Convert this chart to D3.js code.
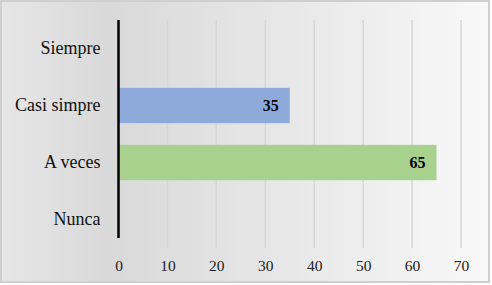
<!DOCTYPE html>
<html>
<head>
<meta charset="utf-8">
<script src="https://cdn.jsdelivr.net/npm/d3@7"></script>
<style>
  body { margin: 0; padding: 0; background: #fff; }
</style>
</head>
<body>
<div id="bar-chart"></div>
<script>
// Data
const categories = ["Siempre", "Casi simpre", "A veces", "Nunca"];
const values = [0, 35, 65, 0];
const barColors = ["#8eaadb", "#8eaadb", "#a9d18e", "#a9d18e"];
const xTicks = [0, 10, 20, 30, 40, 50, 60, 70];

const W = 492, H = 285;
const margin = {top: 20, right: 31, bottom: 37, left: 118.5},
      width = W - margin.left - margin.right,
      height = H - margin.top - margin.bottom;

const root = d3.select("#bar-chart")
    .append("svg")
    .attr("width", W)
    .attr("height", H);

// Background gradient
const grad = root.append("defs").append("linearGradient")
    .attr("id", "bg")
    .attr("x1", "0%").attr("x2", "100%")
    .attr("y1", "0%").attr("y2", "0%");
grad.append("stop").attr("offset", "0%").attr("stop-color", "#e6e6e6");
grad.append("stop").attr("offset", "22%").attr("stop-color", "#d9d9d9");
grad.append("stop").attr("offset", "100%").attr("stop-color", "#f8f8f8");

root.append("rect")
    .attr("x", 1).attr("y", 1)
    .attr("width", W - 4).attr("height", H - 4)
    .attr("fill", "url(#bg)")
    .attr("stroke", "#cfcfcf")
    .attr("stroke-width", 2);

const svg = root.append("g")
    .attr("transform", `translate(${margin.left},${margin.top})`);

// Scales
const x = d3.scaleLinear()
    .domain([0, 70])
    .range([0, width]);

const y = d3.scaleBand()
    .domain(categories)
    .range([0, height])
    .paddingInner(0.38)
    .paddingOuter(0.19);

// Vertical grid lines
svg.selectAll(".xGrid")
    .data(xTicks.slice(1))
    .join("line")
    .attr("x1", d => x(d))
    .attr("x2", d => x(d))
    .attr("y1", 0)
    .attr("y2", height)
    .attr("stroke", "#d6d6d6")
    .attr("stroke-width", 1.5);

// Bars
svg.selectAll(".bar")
    .data(values)
    .join("rect")
    .attr("x", x(0))
    .attr("y", (d, i) => y(categories[i]))
    .attr("width", d => x(d) - x(0))
    .attr("height", y.bandwidth())
    .attr("fill", (d, i) => barColors[i]);

// Value labels
svg.selectAll(".val")
    .data(values.map((v, i) => ({v, c: categories[i]})).filter(d => d.v > 0))
    .join("text")
    .attr("x", d => x(d.v) - 11)
    .attr("y", d => y(d.c) + y.bandwidth() / 2)
    .attr("dy", "0.35em")
    .style("text-anchor", "end")
    .style("font-family", "'Liberation Serif', 'Times New Roman', serif")
    .style("font-weight", "bold")
    .style("font-size", "16px")
    .style("fill", "#000")
    .text(d => d.v);

// X axis
const xAxis = svg.append("g")
    .attr("transform", `translate(0,${height})`)
    .call(d3.axisBottom(x).tickValues(xTicks).tickSize(0).tickPadding(12));
xAxis.select(".domain").remove();
xAxis.selectAll("text")
    .style("font-family", "'Liberation Serif', 'Times New Roman', serif")
    .style("font-size", "15.5px")
    .style("fill", "#222");

// Y axis
const yAxis = svg.append("g")
    .call(d3.axisLeft(y).tickSize(0).tickPadding(18));
yAxis.select(".domain").remove();
yAxis.selectAll("text")
    .style("font-family", "'Liberation Serif', 'Times New Roman', serif")
    .style("font-size", "18px")
    .style("fill", "#111");

// Vertical axis line
svg.append("line")
    .attr("x1", x(0)).attr("x2", x(0))
    .attr("y1", 0).attr("y2", height - 10)
    .attr("stroke", "#000")
    .attr("stroke-width", 2.5);
</script>
</body>
</html>
